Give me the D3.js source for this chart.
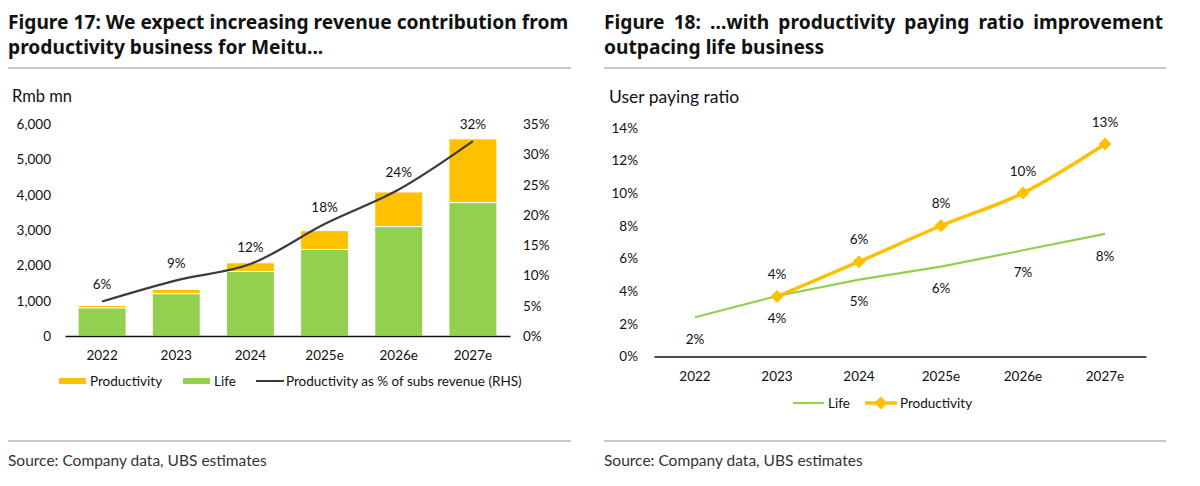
<!DOCTYPE html>
<html>
<head>
<meta charset="utf-8">
<script src="https://cdn.jsdelivr.net/npm/d3@7"></script>
<style>
body { margin: 0; background: #fff; }
text { font-family: Lato, "Open Sans", sans-serif; fill: #111; }
.title { font-family: "Noto Sans", "Open Sans", sans-serif; font-weight: bold; }
</style>
</head>
<body>
<div id="chart"></div>
<script>
// ---- data: figure 17 (revenue, Rmb mn) ----
var years = ["2022", "2023", "2024", "2025e", "2026e", "2027e"];
var lifeRev = [800, 1200, 1830, 2450, 3100, 3780];
var prodRev = [65, 120, 245, 535, 980, 1805];
var prodShare = [5.7, 9.2, 11.9, 18.5, 24.2, 32.2];
var prodShareLabels = ["6%", "9%", "12%", "18%", "24%", "32%"];
var revTicks = [0, 1000, 2000, 3000, 4000, 5000, 6000];
var shareTicks = [0, 5, 10, 15, 20, 25, 30, 35];

// ---- data: figure 18 (user paying ratio, %) ----
var lifePay = [2.4, 3.7, 4.7, 5.5, 6.5, 7.5];
var lifePayLabels = ["2%", "4%", "5%", "6%", "7%", "8%"];
var prodPay = [null, 3.67, 5.8, 8.0, 10.0, 13.0];
var prodPayLabels = [null, "4%", "6%", "8%", "10%", "13%"];
var payTicks = [0, 2, 4, 6, 8, 10, 12, 14];

var YELLOW = "#FFC000", GREEN = "#92D050", DARK = "#3b3b3b";

var svg = d3.select("#chart").append("svg")
  .attr("width", 1200)
  .attr("height", 486);

// titles, rules, sources
function header(x0, x1, lines, justify) {
  lines.forEach(function (t, i) {
    var txt = svg.append("text").attr("class", "title")
      .attr("x", x0).attr("y", 29 + i * 25)
      .style("font-size", "19.2px")
      .text(t);
    if (justify && i == 0) {
      var natural = txt.node().getComputedTextLength();
      var spaces = t.split(" ").length - 1;
      txt.attr("word-spacing", ((x1 - x0 - natural) / spaces) + "px");
    }
  });
  svg.append("line").attr("x1", x0).attr("x2", x1 + 3).attr("y1", 68).attr("y2", 68)
    .style("stroke", "#c8c8c8").style("stroke-width", 2);
  svg.append("line").attr("x1", x0).attr("x2", x1 + 3).attr("y1", 441).attr("y2", 441)
    .style("stroke", "#c8c8c8").style("stroke-width", 2);
  svg.append("text").attr("x", x0).attr("y", 466)
    .style("font-size", "15.5px").style("fill", "#333")
    .text("Source: Company data, UBS estimates");
}
header(8, 568, ["Figure 17: We expect increasing revenue contribution from",
                "productivity business for Meitu..."], false);
header(604, 1163, ["Figure 18: ...with productivity paying ratio improvement",
                   "outpacing life business"], true);

function styleAxis(g) {
  g.select(".domain").style("stroke", "#111").style("stroke-width", 1.6);
  g.selectAll("text").style("font-family", "Lato, 'Open Sans', sans-serif")
    .style("font-size", "13.5px").style("fill", "#111");
}

// ================= Figure 17 =================
var g1 = svg.append("g");
g1.append("text").attr("x", 12).attr("y", 102).style("font-size", "16.5px").text("Rmb mn");

var x1 = d3.scaleBand().domain(years).range([65, 510])
  .paddingInner(0.353).paddingOuter(0.353 / 2);
var yL = d3.scaleLinear().domain([0, 6000]).range([336, 124.2]);
var yR = d3.scaleLinear().domain([0, 35]).range([336, 124.2]);

var rows = years.map(function (y, i) {
  return {year: y, life: lifeRev[i], prod: prodRev[i]};
});
var stack = d3.stack().keys(["life", "prod"])(rows);
var colors = {life: GREEN, prod: YELLOW};

g1.selectAll(".layer").data(stack).enter().append("g")
  .attr("fill", function (d) { return colors[d.key]; })
  .selectAll("rect").data(function (d) { return d; }).enter().append("rect")
  .attr("x", function (d) { return x1(d.data.year); })
  .attr("width", x1.bandwidth())
  .attr("y", function (d) { return yL(d[1]); })
  .attr("height", function (d) { return yL(d[0]) - yL(d[1]); })
  .style("stroke", "#fff").style("stroke-width", 1);

g1.append("g").attr("transform", "translate(51,0)")
  .call(d3.axisLeft(yL).tickValues(revTicks).tickSize(0).tickPadding(0).tickFormat(d3.format(",")))
  .call(function (g) { g.select(".domain").remove(); })
  .call(styleAxis);

g1.append("g").attr("transform", "translate(523,0)")
  .call(d3.axisRight(yR).tickValues(shareTicks).tickSize(0).tickPadding(0)
    .tickFormat(function (d) { return d + "%"; }))
  .call(function (g) { g.select(".domain").remove(); })
  .call(styleAxis);

g1.append("g").attr("transform", "translate(0,336)")
  .call(d3.axisBottom(x1).tickSize(0).tickPadding(14))
  .call(styleAxis);

var cx1 = function (i) { return x1(years[i]) + x1.bandwidth() / 2; };
g1.append("path").datum(prodShare)
  .attr("fill", "none").attr("stroke", DARK).attr("stroke-width", 2.2)
  .attr("d", d3.line()
    .x(function (d, i) { return cx1(i); })
    .y(function (d) { return yR(d); })
    .curve(d3.curveCatmullRom.alpha(0.5)));

g1.selectAll(".shareLbl").data(prodShare).enter().append("text")
  .attr("x", function (d, i) { return cx1(i); })
  .attr("y", function (d) { return yR(d) - 17; })
  .attr("dy", "0.35em").attr("text-anchor", "middle")
  .style("font-size", "13.5px")
  .text(function (d, i) { return prodShareLabels[i]; });

// legend 17
var leg1 = g1.append("g").attr("transform", "translate(0,381)");
leg1.append("rect").attr("x", 59).attr("y", -3).attr("width", 27).attr("height", 6).attr("fill", YELLOW);
leg1.append("text").attr("x", 90).attr("dy", "0.35em").style("font-size", "13.5px").text("Productivity");
leg1.append("rect").attr("x", 183).attr("y", -3).attr("width", 27).attr("height", 6).attr("fill", GREEN);
leg1.append("text").attr("x", 214).attr("dy", "0.35em").style("font-size", "13.5px").text("Life");
leg1.append("line").attr("x1", 256).attr("x2", 284).attr("stroke", DARK).attr("stroke-width", 2);
leg1.append("text").attr("x", 286).attr("dy", "0.35em").style("font-size", "13.5px")
  .text("Productivity as % of subs revenue (RHS)");

// ================= Figure 18 =================
var g2 = svg.append("g");
g2.append("text").attr("x", 609).attr("y", 103).style("font-size", "17.5px").text("User paying ratio");

var x2 = d3.scaleBand().domain(years).range([654, 1146]);
var y2 = d3.scaleLinear().domain([0, 14]).range([356.5, 127.7]);
var cx2 = function (i) { return x2(years[i]) + x2.bandwidth() / 2; };

g2.append("g").attr("transform", "translate(638,0)")
  .call(d3.axisLeft(y2).tickValues(payTicks).tickSize(0).tickPadding(0)
    .tickFormat(function (d) { return d + "%"; }))
  .call(function (g) { g.select(".domain").remove(); })
  .call(styleAxis);

g2.append("g").attr("transform", "translate(0,356.5)")
  .call(d3.axisBottom(x2).tickSize(0).tickPadding(15))
  .call(styleAxis);

g2.append("path").datum(lifePay)
  .attr("fill", "none").attr("stroke", GREEN).attr("stroke-width", 2.2)
  .attr("d", d3.line()
    .x(function (d, i) { return cx2(i); })
    .y(function (d) { return y2(d); }));

var prodPts = prodPay.map(function (v, i) { return {i: i, v: v}; })
  .filter(function (d) { return d.v != null; });

g2.append("path").datum(prodPts)
  .attr("fill", "none").attr("stroke", YELLOW).attr("stroke-width", 3.5)
  .attr("d", d3.line()
    .x(function (d) { return cx2(d.i); })
    .y(function (d) { return y2(d.v); })
    .curve(d3.curveCatmullRom.alpha(0.5)));

var diamond = d3.symbol().type(d3.symbolSquare).size(85);
g2.selectAll(".dia").data(prodPts).enter().append("path")
  .attr("d", diamond)
  .attr("transform", function (d) {
    return "translate(" + cx2(d.i) + "," + y2(d.v) + ") rotate(45)";
  })
  .attr("fill", YELLOW);

g2.selectAll(".prodLbl").data(prodPts).enter().append("text")
  .attr("x", function (d) { return cx2(d.i); })
  .attr("y", function (d) { return y2(d.v) - 22; })
  .attr("dy", "0.35em").attr("text-anchor", "middle")
  .style("font-size", "13.5px")
  .text(function (d) { return prodPayLabels[d.i]; });

g2.selectAll(".lifeLbl").data(lifePay).enter().append("text")
  .attr("x", function (d, i) { return cx2(i); })
  .attr("y", function (d) { return y2(d) + 22; })
  .attr("dy", "0.35em").attr("text-anchor", "middle")
  .style("font-size", "13.5px")
  .text(function (d, i) { return lifePayLabels[i]; });

// legend 18
var leg2 = g2.append("g").attr("transform", "translate(0,403)");
leg2.append("line").attr("x1", 793).attr("x2", 824).attr("stroke", GREEN).attr("stroke-width", 2.2);
leg2.append("text").attr("x", 828).attr("dy", "0.35em").style("font-size", "13.5px").text("Life");
leg2.append("line").attr("x1", 865).attr("x2", 897).attr("stroke", YELLOW).attr("stroke-width", 3.5);
leg2.append("path").attr("d", diamond).attr("transform", "translate(881,0) rotate(45)").attr("fill", YELLOW);
leg2.append("text").attr("x", 900).attr("dy", "0.35em").style("font-size", "13.5px").text("Productivity");
</script>
</body>
</html>
